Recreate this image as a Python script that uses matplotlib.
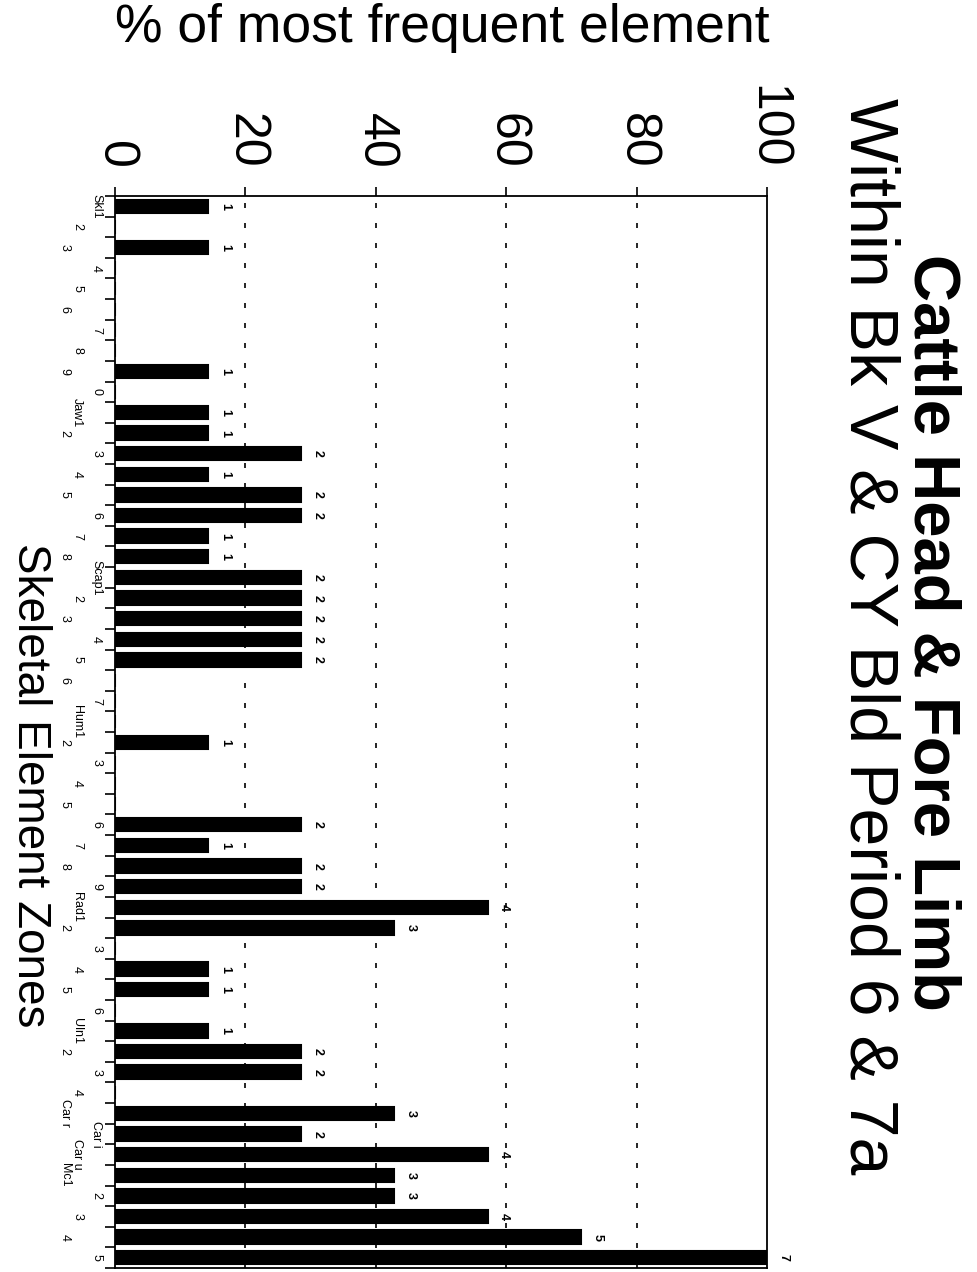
import numpy as np
import matplotlib
matplotlib.use("Agg")
from matplotlib import pyplot as plt

plt.rcParams['font.family'] = ['Liberation Sans', 'DejaVu Sans']

# skeletal element zones, in order down the chart
zones = ["Skl1", "2", "3", "4", "5", "6", "7", "8", "9", "0",
         "Jaw1", "2", "3", "4", "5", "6", "7", "8",
         "Scap1", "2", "3", "4", "5", "6", "7",
         "Hum1", "2", "3", "4", "5", "6", "7", "8", "9",
         "Rad1", "2", "3", "4", "5", "6",
         "Uln1", "2", "3", "4",
         "Car r", "Car i", "Car u",
         "Mc1", "2", "3", "4", "5"]

# fragment counts per zone
counts = [1, 0, 1, 0, 0, 0, 0, 0, 1, 0,
          1, 1, 2, 1, 2, 2, 1, 1,
          2, 2, 2, 2, 2, 0, 0,
          0, 1, 0, 0, 0, 2, 1, 2, 2,
          4, 3, 0, 1, 1, 0,
          1, 2, 2, 0,
          3, 2, 4,
          3, 3, 4, 5, 7]

value_ticks = [0, 20, 40, 60, 80, 100]

counts = np.array(counts)
pct = counts / counts.max() * 100
pos = np.arange(len(zones))

fig = plt.figure(figsize=(9.78, 12.72), dpi=100)
ax = fig.add_axes([115 / 978, 4 / 1272, 652 / 978, 1072 / 1272])

for g in value_ticks[1:-1]:
    ax.axvline(g, color='black', lw=1.2, linestyle=(0, (3, 9)), zorder=1)

ax.barh(pos, pct, height=0.65, color='black', edgecolor='black', lw=1.5, zorder=2)

for p, v, c in zip(pos, pct, counts):
    if c > 0:
        ax.annotate(str(c), (v, p), xytext=(12, 0), textcoords='offset points',
                    ha='center', va='center', rotation=-90, fontsize=9,
                    fontweight='bold', annotation_clip=False)

ax.set_xlim(0, 100)
ax.set_ylim(len(zones) - 0.5, -0.5)

# value axis on top, labels read top-to-bottom
ax.xaxis.tick_top()
ax.set_xticks(value_ticks)
ax.set_xticklabels([str(t) for t in value_ticks], rotation=-90, fontsize=36)
ax.tick_params(axis='x', length=6.5, width=1.2, pad=13)

# zone ticks at the boundaries, staggered labels
ax.set_yticks(np.arange(-0.5, len(zones), 1))
ax.set_yticklabels([])
ax.tick_params(axis='y', length=7, width=1.2)
offsets = [-0.029, -0.058, -0.077]
tr = ax.get_yaxis_transform()
for i, z in enumerate(zones):
    ax.text(offsets[i % 3], i, z, transform=tr, rotation=-90, fontsize=9,
            ha='center', va='center')

for s in ax.spines.values():
    s.set_linewidth(1.3)

fig.text(442 / 978, 1 - 28 / 1272, '% of most frequent element',
         ha='center', va='center', fontsize=38.5)
fig.text(30 / 978, 1 - 785 / 1272, 'Skeletal Element Zones',
         ha='center', va='center', rotation=-90, fontsize=33)
fig.text(932 / 978, 0.503, 'Cattle Head & Fore Limb', ha='center', va='center',
         rotation=-90, fontsize=47, fontweight='bold')
fig.text(868 / 978, 0.5, 'Within Bk V & CY Bld Period 6 & 7a', ha='center',
         va='center', rotation=-90, fontsize=49)

fig.savefig('out.png', dpi=100)
